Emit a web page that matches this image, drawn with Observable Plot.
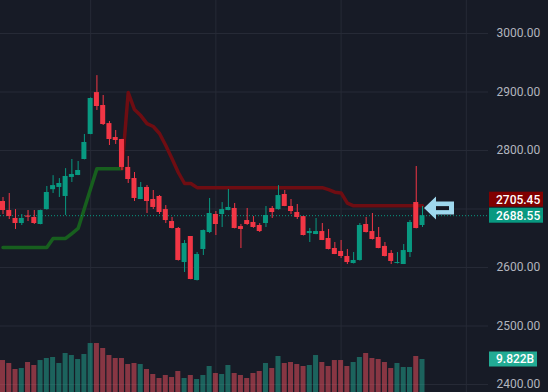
<!DOCTYPE html>
<html><head><meta charset="utf-8">
<script src="https://cdn.jsdelivr.net/npm/d3@7"></script>
<script src="https://cdn.jsdelivr.net/npm/@observablehq/plot@0.6"></script>
<style>
html,body{margin:0;padding:0;background:#171b26;}
#chart{position:relative;width:548px;height:392px;overflow:hidden;background:#171b26;}
#chart svg{position:absolute;left:0;top:0;}
</style></head><body><div id="chart"></div>
<script>
// ---- data ----
const openP  = [2712.8,2697.4,2683.8,2675.2,2688,2685.5,2673.5,2699,2733,2736.8,2721.4,2753.9,2757.3,2784.6,2827.4,2899,2876.9,2846,2822.2,2818.8,2771,2752.1,2716.2,2736.8,2716.2,2721.4,2699,2678.6,2666.7,2608.5,2653,2577.8,2630.8,2659.8,2690.6,2690.6,2697.4,2700.9,2670,2680.3,2677,2671.8,2675.2,2700.9,2699,2724.8,2704.3,2694,2687,2658,2656.4,2661.5,2649.6,2632.5,2627.4,2618.8,2606.8,2612,2673.5,2661.5,2651.3,2636,2624,2606.8,2605.1,2625.6,2711.1,2671.8];
const highP  = [2719.7,2726.5,2699,2690.6,2697.4,2697.4,2698,2738.5,2757,2752,2769,2784.6,2781.2,2827.4,2890,2928,2894,2849.6,2834.2,2819,2789.7,2762.4,2745.3,2740.2,2731.6,2723,2705.9,2685.5,2668.4,2646.2,2653,2625.6,2664,2718,2695.7,2711,2733.3,2709.4,2673.5,2700.9,2687,2675,2704.3,2704.3,2740,2731.6,2716.2,2707.7,2687,2666.7,2683.8,2675.2,2665,2642.7,2646.2,2630.8,2625.6,2675.2,2685.5,2692.3,2668.4,2642.7,2629,2625.6,2639.3,2680.3,2772.6,2704.3];
const lowP   = [2690.6,2682,2665,2671.8,2678.6,2673.5,2673,2698,2726.5,2719.7,2688.9,2745.3,2757,2784,2827,2868.4,2842.7,2808.5,2810.3,2765.8,2743.6,2712.8,2716,2692.3,2699.1,2690.6,2675.2,2666,2611,2591.5,2579,2577,2620.5,2658,2654.7,2668.4,2697,2666,2632.5,2672,2667,2659.8,2668.4,2683.8,2698,2704,2690.6,2682,2654,2642.7,2656,2646,2630,2622,2615.4,2605.1,2606,2611,2659,2647,2632,2618,2605.1,2606,2605,2617.1,2666,2668.4];
const closeP = [2697.4,2687.2,2675.2,2683.8,2686,2675.2,2697.4,2728.2,2740,2743.6,2755.6,2759,2765.8,2813.7,2888.9,2875.2,2844.4,2818.8,2817.1,2771,2750.4,2718,2736.8,2712.8,2702.6,2694,2680.3,2666.7,2612,2641,2579.5,2622.2,2663.2,2692.3,2673.5,2699,2702.6,2666.7,2665,2673.5,2668.4,2661.5,2688.9,2694,2723,2704.3,2695.7,2685.5,2654.7,2661.5,2661.5,2646.2,2630.8,2622.2,2618.8,2608.5,2612,2671.8,2659.8,2647.9,2632.5,2618.8,2610.3,2608.5,2629,2676.9,2666.7,2688.55];
// volume in billions
const volumeB = [9.52,8.63,6.85,7.14,8.93,8.04,9.52,10.12,10.42,8.63,11.61,11.01,9.82,11.31,14.58,14.58,13.10,11.01,10.12,10.12,8.33,8.63,8.33,6.85,5.36,4.17,5.06,4.46,6.25,4.17,5.06,3.87,5.06,7.74,5.66,5.36,8.04,5.66,5.06,4.17,5.66,6.25,8.63,7.14,10.72,8.63,8.93,8.33,7.74,8.04,11.01,8.93,7.74,9.52,9.52,7.74,8.93,10.42,11.61,10.12,9.82,8.93,7.14,8.63,7.44,7.44,10.72,9.822];
// supertrend line value per candle
const stValue = [2634,2634,2634,2634,2634,2634,2634,2634,2649.6,2649.6,2649.6,2658,2666.7,2701,2735,2769,2769,2769,2769,2769,2899,2870,2859.7,2846,2841,2829,2808.5,2786,2762.4,2743.6,2743.6,2736.5,2736.5,2736.5,2736.5,2736.5,2736.5,2736.5,2736.5,2736.5,2736.5,2736.5,2736.5,2736.5,2736.5,2736.5,2736.5,2736.5,2736.5,2736.5,2736.5,2736.5,2733,2728.7,2727.5,2710,2705.45,2705.45,2705.45,2705.45,2705.45,2705.45,2705.45,2705.45,2705.45,2705.45,2705.45,2705.45];
const stUpCount = 20; // first 20 candles in uptrend (green), rest downtrend (red)
const gridPrices = [2400,2500,2600,2700,2800,2900,3000];
const axisTicks = [2400,2500,2600,2800,2900,3000]; // 2700 label is covered by the price tags
const gridIndex = [15,35,55,75];
const lastClose = 2688.55, lastTrend = 2705.45, lastVolume = 9.822;
const volumeLabel = "9.822B";

// ---- colours ----
const UP = "#089981", DOWN = "#f23645";
const VUP = "#22ab94", VDOWN = "#f7525f";
const BG = "#171b26", GRID = "#262a36", TXT = "#b2b5be";
const FONT = "Roboto, 'Open Sans', sans-serif";

const bars = openP.map((o,k)=>({i:k+1, open:o, high:highP[k], low:lowP[k], close:closeP[k], vol:volumeB[k], up: closeP[k] >= o}));
const st = stValue.map((v,k)=>({i:k+1, v}));
const stGreen = st.slice(0, stUpCount);
const stRed = st.slice(stUpCount-1);

const xOpt = {domain:[1,68], range:[2.5,422], axis:null};

const pricePlot = Plot.plot({
  width:548, height:392, marginTop:0, marginBottom:0, marginLeft:0, marginRight:60,
  style:{background:BG, fontFamily:FONT, fontSize:"12px", color:TXT, overflow:"visible"},
  x: xOpt,
  y: {domain:[2400,3000], range:[384,33], axis:"right", ticks:axisTicks, tickFormat:d3.format(".2f"), tickSize:0, tickPadding:8, label:null},
  color:{type:"identity"},
  marks:[
    Plot.ruleX(gridIndex, {x:d=>d, stroke:GRID, strokeWidth:1}),
    Plot.ruleY(gridPrices, {y:d=>d, stroke:GRID, strokeWidth:1}),
    Plot.line(stGreen, {x:"i", y:"v", stroke:"#175f1e", strokeWidth:3.5, strokeLinejoin:"round"}),
    Plot.line(stRed, {x:"i", y:"v", stroke:"#6e0d12", strokeWidth:3.5, strokeLinejoin:"round"}),
    Plot.ruleY([lastClose], {y:d=>d, stroke:UP, strokeWidth:1, strokeDasharray:"1 2"}),
    Plot.ruleX(bars, {x:"i", y1:"low", y2:"high", stroke:d=>d.up?UP:DOWN, strokeWidth:1}),
    Plot.rect(bars, {x1:d=>d.i-0.4, x2:d=>d.i+0.4, y1:"open", y2:"close", fill:d=>d.up?UP:DOWN})
  ]
});

const volPlot = Plot.plot({
  width:548, height:392, margin:0,
  style:{background:"transparent", overflow:"visible"},
  x: xOpt,
  y: {domain:[0,lastVolume], range:[392,359], axis:null},
  color:{type:"identity"},
  marks:[
    Plot.rect(bars, {x1:d=>d.i-0.4, x2:d=>d.i+0.4, y1:0, y2:"vol", fill:d=>d.up?VUP:VDOWN, fillOpacity:0.5})
  ]
});

const root = document.getElementById("chart");
root.appendChild(pricePlot);
root.appendChild(volPlot);

// overlays positioned through the plots' own scales
const ys = pricePlot.scale("y"), xs = pricePlot.scale("x"), yv = volPlot.scale("y");
const g = d3.select(volPlot).append("g")
  .attr("font-family",FONT).attr("font-size",12).attr("text-anchor","start");

// arrow pointing at the last candle
const ax = xs.apply(68), ay = ys.apply(2701);
g.append("path")
  .attr("d", `M${ax+2},${ay} L${ax+14},${ay-11.5} L${ax+14},${ay-6.5} L${ax+32},${ay-6.5} L${ax+32},${ay+6.5} L${ax+14},${ay+6.5} L${ax+14},${ay+11.5} Z`)
  .attr("fill","#9fd8ee");
g.append("rect").attr("x",ax+14).attr("y",ay-1.8).attr("width",13).attr("height",4).attr("fill",BG);

// price labels on the axis
const yClose = ys.apply(lastClose);
const labels = [
  {text:d3.format(".2f")(lastTrend), fill:"#800000", cy: yClose-16, w:54},
  {text:d3.format(".2f")(lastClose), fill:UP, cy: yClose, w:54},
  {text:volumeLabel, fill:VUP, cy: yv.apply(lastVolume), w:48}
];
for (const l of labels) {
  g.append("rect").attr("x",489).attr("y",l.cy-7.5).attr("width",l.w).attr("height",15).attr("fill",l.fill);
  g.append("text").attr("x",496).attr("y",l.cy).attr("dy","0.36em").attr("fill","#ffffff").attr("font-weight",500).text(l.text);
}
</script></body></html>
